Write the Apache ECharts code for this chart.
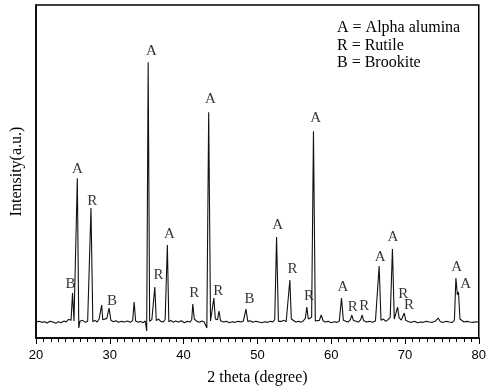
<!DOCTYPE html>
<html>
<head>
<meta charset="utf-8">
<script src="https://cdn.jsdelivr.net/npm/echarts@6/dist/echarts.min.js"></script>
<style>html,body{margin:0;padding:0;background:#fff;}#c{width:489px;height:391px;}</style>
</head>
<body>
<div id="c"></div>
<script>
// 2 theta (degree) positions of the trace
var twoTheta = [
20.0,20.4,20.8,21.2,21.5,21.9,22.3,22.7,23.0,23.4,23.8,24.1,24.4,24.6,24.75,24.95,25.15,25.4,25.6,25.8,
25.95,26.3,26.7,27.0,27.2,27.45,27.7,28.0,28.3,28.55,28.9,29.05,29.3,29.6,29.9,30.15,30.5,30.8,31.2,31.6,
32.0,32.4,32.8,33.1,33.3,33.5,33.9,34.2,34.5,34.8,35.0,35.2,35.4,35.7,35.9,36.1,36.3,36.6,36.9,37.2,
37.5,37.8,38.0,38.3,38.6,38.9,39.3,39.7,40.1,40.5,40.9,41.1,41.25,41.45,41.6,41.8,42.1,42.5,42.8,43.15,
43.4,43.65,43.85,44.1,44.3,44.6,44.8,45.0,45.4,45.8,46.2,46.6,47.0,47.4,47.8,48.1,48.45,48.7,49.0,49.4,
49.8,50.2,50.6,51.0,51.4,51.8,52.1,52.35,52.6,52.85,53.1,53.3,53.6,53.9,54.15,54.4,54.6,54.85,55.2,55.6,
55.9,56.2,56.5,56.7,56.9,57.1,57.35,57.6,57.85,58.1,58.4,58.65,58.9,59.2,59.6,60.0,60.4,60.8,61.1,61.4,
61.65,62.0,62.3,62.6,62.8,63.0,63.4,63.7,64.0,64.2,64.4,64.8,65.2,65.6,66.0,66.25,66.5,66.75,67.1,67.4,
67.7,68.0,68.3,68.55,68.8,69.0,69.2,69.5,69.9,70.1,70.5,70.9,71.3,71.7,72.1,72.5,72.9,73.3,73.7,74.1,
74.5,74.8,75.2,75.6,76.0,76.4,76.7,76.9,77.1,77.25,77.45,77.7,78.0,78.4,78.8,79.2,79.6,80.0
];
// intensity (a.u.) at each position
var intensity = [
48,50,47,49,45,50,48,44,49,46,51,48,56,50,53,135,51,57,480,30,
50,53,47,50,55,390,49,53,48,57,99,55,51,59,90,53,49,52,47,50,
48,51,47,53,108,51,47,50,46,51,21,828,50,55,51,153,52,57,50,48,
55,279,49,53,47,51,48,52,46,50,48,55,102,57,62,50,47,51,48,30,
678,51,57,120,57,55,81,52,48,50,46,49,47,50,48,51,87,50,52,47,
50,48,46,49,47,50,48,55,303,50,55,50,53,49,55,174,57,51,48,50,
47,51,59,93,57,53,62,621,51,57,53,69,52,48,50,46,49,47,51,120,
53,50,48,55,69,53,50,48,55,69,52,48,50,47,51,57,216,53,57,50,
55,62,267,57,62,93,61,54,75,53,49,47,50,46,48,47,50,48,47,50,
60,49,47,50,48,47,53,180,130,138,57,51,48,50,48,47,49,48
];
// peak annotation letters
var labelText = ["B","A","R","B","A","R","A","R","A","R","B","A","R","R","A","A","R","R","A","A","R","R","A","A"];
var labelTheta = [24.66,25.6,27.62,30.3,35.65,36.61,38.09,41.44,43.65,44.7,48.92,52.76,54.77,57.01,57.91,61.58,62.92,64.49,66.64,68.38,69.76,70.53,77.01,78.22];
var labelIntensity = [162,507,411,111,861,189,312,135,717,141,117,339,207,126,660,153,93,97,244,304,132,99,213,162];
var legendLines = ["A = Alpha alumina","R = Rutile","B = Brookite"];
var xTicks = [20,30,40,50,60,70,80];

var lineData = twoTheta.map(function(t,i){return [t,intensity[i]];});
var labelData = labelTheta.map(function(t,i){return {value:[t,labelIntensity[i]], name:labelText[i]};});

var chart = echarts.init(document.getElementById('c'), null, {renderer:'canvas'});
var serif = '"Liberation Serif","Times New Roman",serif';
chart.setOption({
  animation:false,
  backgroundColor:'#fff',
  grid:{left:36,right:6,top:5,bottom:53,show:true,borderColor:'#000',borderWidth:1.5,backgroundColor:'transparent'},
  xAxis:{
    type:'value',min:xTicks[0],max:xTicks[xTicks.length-1],interval:10,
    name:'2 theta (degree)',nameLocation:'middle',nameGap:32,
    nameTextStyle:{fontFamily:serif,fontSize:16,color:'#000'},
    axisLine:{show:true,lineStyle:{color:'#000',width:1.5}},
    axisTick:{show:true,inside:false,length:6,lineStyle:{color:'#000',width:1}},
    minorTick:{show:true,splitNumber:10,length:4,lineStyle:{color:'#000',width:1}},
    axisLabel:{fontFamily:'"Liberation Sans",Arial,sans-serif',fontSize:13,color:'#000',margin:11},
    splitLine:{show:false}
  },
  yAxis:{
    type:'value',min:0,max:1000,
    name:'Intensity(a.u.)',nameLocation:'middle',nameGap:11,
    nameTextStyle:{fontFamily:serif,fontSize:16,color:'#000'},
    axisLine:{show:true,lineStyle:{color:'#000',width:1.5}},
    axisTick:{show:false},axisLabel:{show:false},splitLine:{show:false}
  },
  graphic:legendLines.map(function(s,i){
    return {type:'text',left:337,top:20+i*17.5,style:{text:s,fontFamily:serif,fontSize:16,fill:'#000'}};
  }),
  series:[
    {type:'line',data:lineData,showSymbol:false,symbol:'none',lineStyle:{color:'#111',width:1.1},z:3},
    {type:'scatter',data:labelData,symbolSize:0,
      label:{show:true,position:'inside',formatter:function(p){return p.name;},fontFamily:serif,fontSize:15,color:'#000'},z:4}
  ]
});
</script>
</body>
</html>
